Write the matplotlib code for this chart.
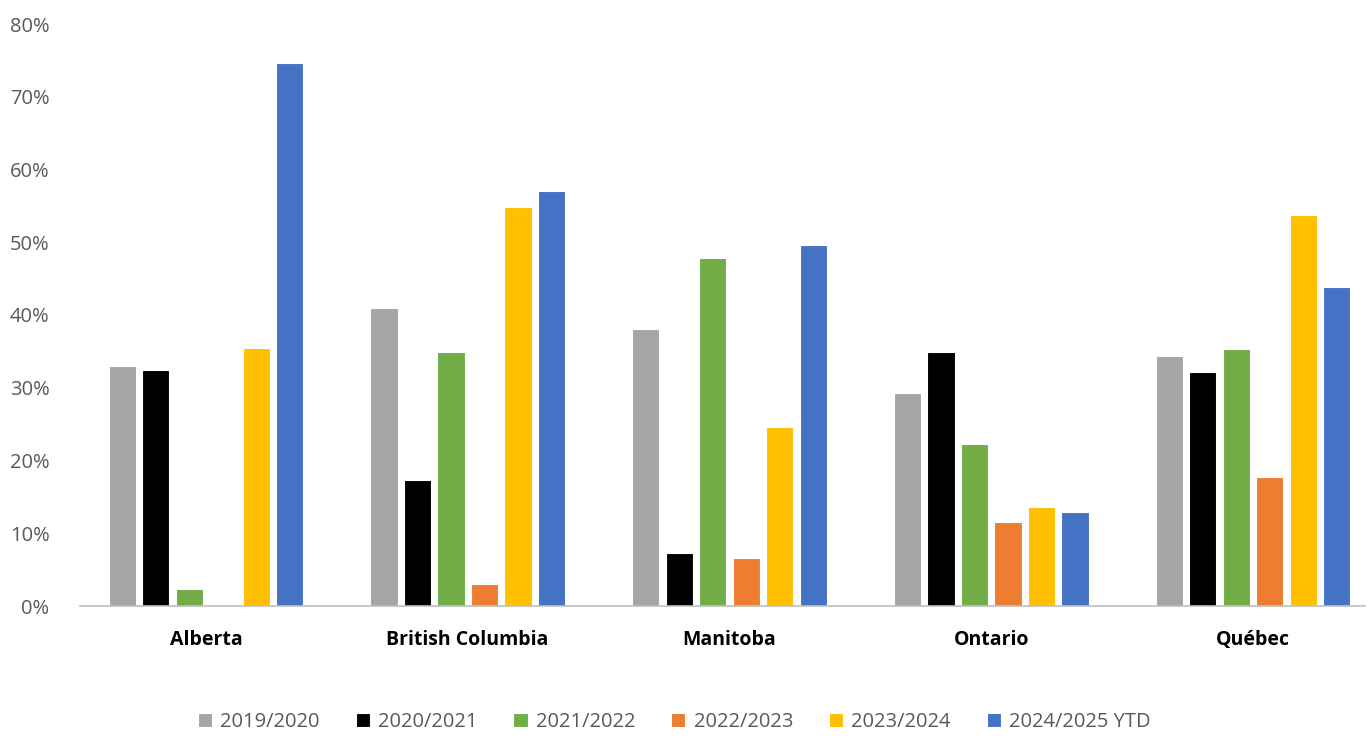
import matplotlib
matplotlib.use('Agg')
import matplotlib.pyplot as plt
import numpy as np
from matplotlib.ticker import PercentFormatter

provinces = ['Alberta', 'British Columbia', 'Manitoba', 'Ontario', 'Québec']
years = ['2019/2020', '2020/2021', '2021/2022', '2022/2023', '2023/2024', '2024/2025 YTD']
colors = ['#A5A5A5', '#000000', '#70AD47', '#ED7D31', '#FFC000', '#4472C4']

v_2019 = [33.0, 41.0, 38.1, 29.3, 34.4]
v_2020 = [32.4, 17.3, 7.3, 34.9, 32.1]
v_2021 = [2.3, 34.9, 47.8, 22.2, 35.3]
v_2022 = [0.0, 3.0, 6.6, 11.5, 17.7]
v_2023 = [35.4, 54.8, 24.6, 13.6, 53.8]
v_2024 = [74.6, 57.1, 49.6, 12.9, 43.9]
series = [v_2019, v_2020, v_2021, v_2022, v_2023, v_2024]

plt.rcParams['font.family'] = ['Open Sans', 'DejaVu Sans']

fig = plt.figure(figsize=(13.72, 7.36), dpi=100)
ax = fig.add_axes([80 / 1372, 1 - 606 / 736, 1285 / 1372, 582 / 736])

x = np.arange(len(provinces))
pitch = 0.128
width = 0.104
for i, (vals, name, c) in enumerate(zip(series, years, colors)):
    ax.bar(x + (i - 2.5) * pitch, vals, width, color=c, label=name,
           edgecolor='white', linewidth=0.8)

ax.set_xlim(-0.481, 4.428)
ax.set_ylim(0, 80)
ax.set_yticks(range(0, 81, 10))
ax.yaxis.set_major_formatter(PercentFormatter(decimals=0))
ax.set_xticks(x)
ax.set_xticklabels(provinces, fontweight='bold', fontsize=14, color='#000000')
ax.tick_params(axis='x', length=0, pad=17)
ax.tick_params(axis='y', length=0, pad=22, labelsize=14.5, labelcolor='#595959')

for s in ['top', 'right', 'left']:
    ax.spines[s].set_visible(False)
ax.spines['bottom'].set_color('#BFBFBF')
ax.spines['bottom'].set_linewidth(1.2)

fig.legend(loc='center', bbox_to_anchor=(0.4915, 1 - 722 / 736), ncol=6,
           frameon=False, fontsize=14.5, labelcolor='#595959',
           handlelength=0.7, handleheight=0.7, handletextpad=0.4,
           columnspacing=1.8)

fig.savefig('out.png', dpi=100)
